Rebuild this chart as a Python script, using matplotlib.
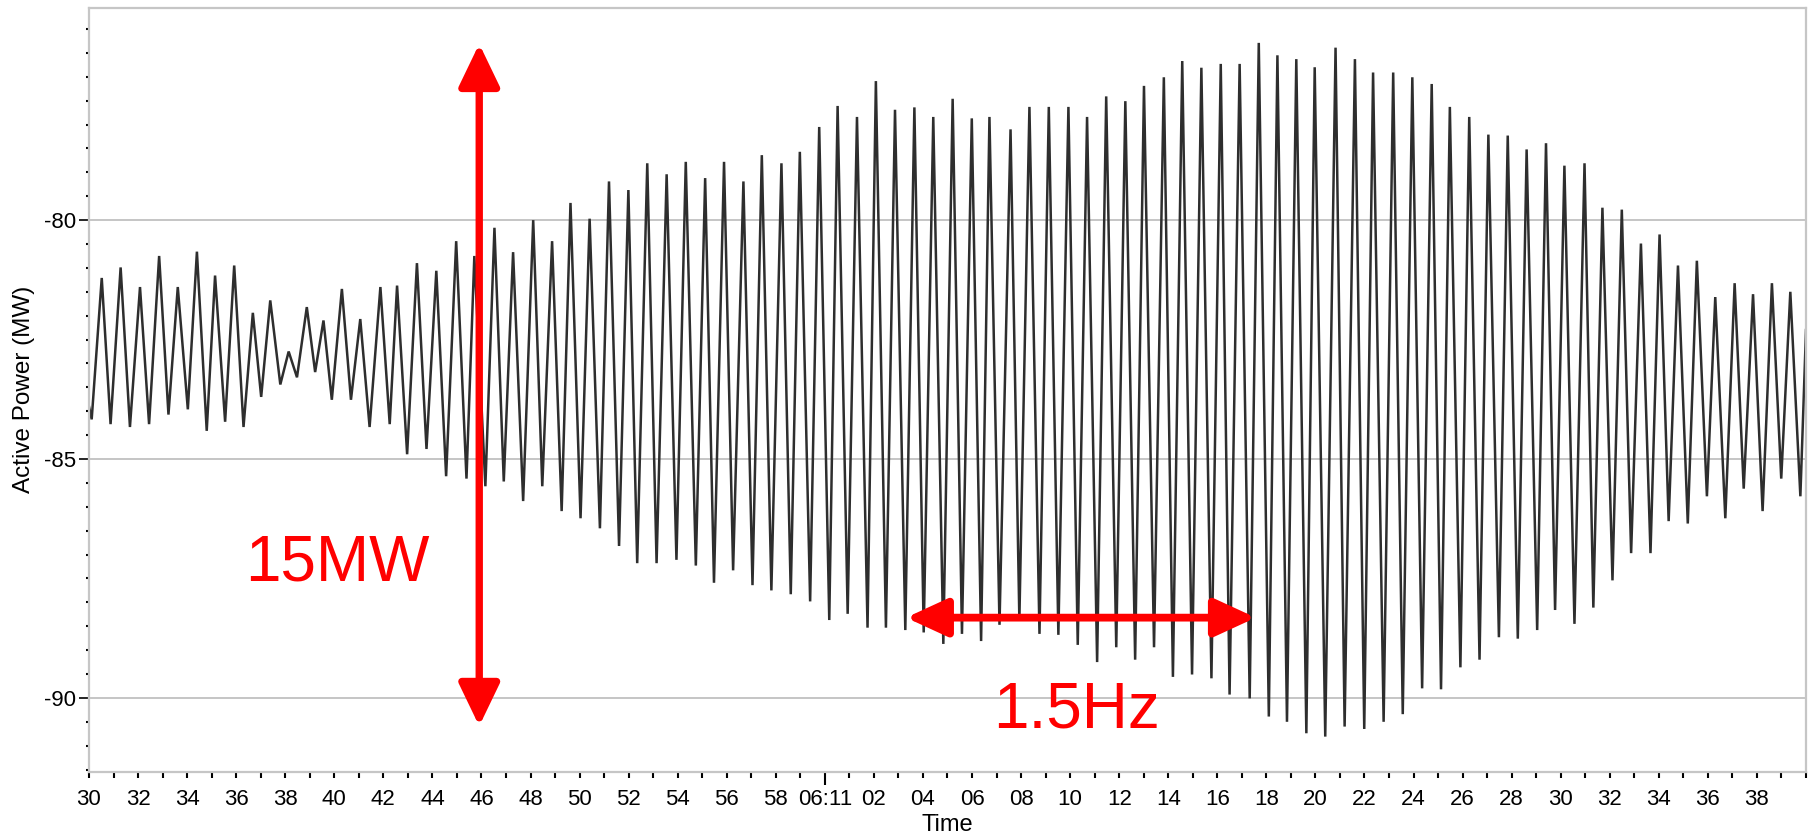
import matplotlib.pyplot as plt
from matplotlib.patches import FancyArrowPatch
from matplotlib.ticker import MultipleLocator, FixedLocator

plt.rcParams['font.family'] = ['Liberation Sans', 'DejaVu Sans']
plt.rcParams['axes.unicode_minus'] = False

# times are seconds after 06:10:00, values in MW
peak_time = [30.52, 31.29, 32.08, 32.86, 33.62, 34.40, 35.14, 35.92, 36.68, 37.39, 38.14, 38.88, 39.56, 40.31, 41.06, 41.88, 42.56,
             43.37, 44.16, 44.97, 45.71, 46.53, 47.29, 48.11, 48.88, 49.63, 50.41, 51.20, 51.99, 52.76, 53.55, 54.33, 55.12,
             55.89, 56.68, 57.43, 58.23, 58.98, 59.77, 60.52, 61.31, 62.08, 62.86, 63.65, 64.42, 65.21, 65.99, 66.71,
             67.57, 68.34, 69.13, 69.93, 70.69, 71.47, 72.25, 73.01, 73.82, 74.57, 75.35, 76.14, 76.91, 77.69,
             78.45, 79.22, 79.97, 80.82, 81.61, 82.35, 83.17, 83.95, 84.74, 85.48, 86.27, 87.05, 87.84, 88.61, 89.40,
             90.15, 90.97, 91.70, 92.49, 93.27, 94.03, 94.78, 95.55, 96.30, 97.09, 97.84, 98.61, 99.36]
peak_mw = [-81.21, -80.99, -81.40, -80.75, -81.40, -80.66, -81.16, -80.95, -81.94, -81.68, -82.75, -81.82, -82.10, -81.44, -82.07, -81.40, -81.37,
           -80.90, -81.06, -80.44, -80.75, -80.16, -80.67, -80.00, -80.44, -79.64, -79.97, -79.19, -79.37, -78.81, -79.04, -78.78, -79.12,
           -78.78, -79.19, -78.64, -78.81, -78.57, -78.05, -77.61, -77.84, -77.09, -77.69, -77.64, -77.84, -77.46, -77.87, -77.84,
           -78.10, -77.63, -77.63, -77.63, -77.84, -77.41, -77.51, -77.19, -77.01, -76.67, -76.81, -76.73, -76.73, -76.29,
           -76.55, -76.63, -76.80, -76.39, -76.63, -76.91, -76.91, -77.01, -77.15, -77.63, -77.84, -78.21, -78.23, -78.52, -78.39,
           -78.86, -78.81, -79.74, -79.78, -80.49, -80.30, -80.95, -80.85, -81.61, -81.32, -81.55, -81.32, -81.50]

trough_time = [30.11, 30.88, 31.67, 32.45, 33.24, 34.03, 34.80, 35.55, 36.30, 37.02, 37.80, 38.48, 39.22, 39.90, 40.68, 41.44, 42.26,
               42.97, 43.76, 44.56, 45.39, 46.16, 46.91, 47.70, 48.48, 49.27, 50.04, 50.83, 51.61, 52.35, 53.14, 53.95, 54.74,
               55.48, 56.26, 57.05, 57.82, 58.61, 59.40, 60.18, 60.93, 61.74, 62.49, 63.28, 64.03, 64.83, 65.59, 66.37,
               67.12, 67.93, 68.75, 69.52, 70.31, 71.10, 71.88, 72.65, 73.42, 74.19, 74.97, 75.76, 76.50, 77.32, 78.10,
               78.84, 79.63, 80.40, 81.19, 81.99, 82.78, 83.56, 84.35, 85.12, 85.91, 86.69, 87.48, 88.25, 89.04,
               89.77, 90.56, 91.33, 92.11, 92.87, 93.66, 94.40, 95.18, 95.96, 96.71, 97.46, 98.23, 98.99, 99.77]
trough_mw = [-84.17, -84.27, -84.33, -84.27, -84.07, -83.96, -84.41, -84.22, -84.33, -83.70, -83.44, -83.29, -83.18, -83.76, -83.76, -84.33, -84.27,
             -84.90, -84.79, -85.36, -85.41, -85.57, -85.47, -85.88, -85.57, -86.09, -86.24, -86.45, -86.82, -87.18, -87.18, -87.11, -87.23,
             -87.59, -87.33, -87.64, -87.75, -87.83, -87.98, -88.37, -88.24, -88.53, -88.53, -88.58, -88.63, -88.87, -88.66, -88.81,
             -88.47, -88.37, -88.66, -88.68, -88.89, -89.25, -88.94, -89.20, -88.94, -89.56, -89.51, -89.59, -89.93, -90.01, -90.39,
             -90.50, -90.74, -90.81, -90.60, -90.65, -90.50, -90.34, -89.80, -89.82, -89.36, -89.20, -88.73, -88.76, -88.58,
             -88.16, -88.45, -88.11, -87.54, -86.97, -86.97, -86.30, -86.35, -85.78, -86.24, -85.62, -86.09, -85.41, -85.78]

start_time, start_mw = 30.0, -83.9
end_time, end_mw = 100.0, -82.3

x_major = list(range(30, 100, 2))
y_major = [-90, -85, -80]


def time_label(s):
    if s == 60:
        return '06:11'
    return f'{s % 60:02d}'


# merge peaks and troughs into one trace
pts = sorted(list(zip(peak_time, peak_mw)) + list(zip(trough_time, trough_mw)))
t = [start_time] + [p[0] for p in pts] + [end_time]
p = [start_mw] + [p[1] for p in pts] + [end_mw]

fig = plt.figure(figsize=(18.16, 8.36), dpi=100)
ax = fig.add_axes([0.049, 0.0766, 0.9455, 0.9144])

ax.plot(t, p, color='#2e2e2e', lw=1.8, solid_joinstyle='miter')

ax.set_xlim(30, 100)
ax.set_ylim(-91.55, -75.55)

ax.xaxis.set_major_locator(FixedLocator(x_major))
ax.set_xticklabels([time_label(s) for s in x_major])
ax.xaxis.set_minor_locator(MultipleLocator(1))
ax.yaxis.set_major_locator(FixedLocator(y_major))
ax.yaxis.set_minor_locator(MultipleLocator(0.5))

ax.tick_params(axis='x', which='both', direction='out', length=4, width=1.5, color='black',
               labelsize=16, pad=8)
ax.tick_params(axis='y', which='major', direction='out', length=7, width=1.2, color='black',
               labelsize=16, pad=2)
ax.tick_params(axis='y', which='minor', direction='out', length=2, width=1.5, color='black')
ax.xaxis.get_major_ticks()[x_major.index(60)].tick1line.set_markersize(9)

for sp in ax.spines.values():
    sp.set_color('#c6c6c6')
    sp.set_linewidth(1.6)

ax.grid(axis='y', which='major', color='#c0c0c0', lw=1.3)
ax.set_axisbelow(True)

ax.set_xlabel('Time', fontsize=17, va='center')
ax.xaxis.set_label_coords(0.5, -0.069)
ax.set_ylabel('Active Power (MW)', fontsize=17.5, va='center')
ax.yaxis.set_label_coords(-0.038, 0.5)

# red annotations
ax.add_patch(FancyArrowPatch((45.91, -90.59), (45.91, -76.31),
                             arrowstyle='<|-|>,head_length=26,head_width=12.5',
                             mutation_scale=1, lw=5.3, color='red',
                             shrinkA=0, shrinkB=0, zorder=5))
ax.add_patch(FancyArrowPatch((63.31, -88.32), (77.57, -88.32),
                             arrowstyle='<|-|>,head_length=25,head_width=11.5',
                             mutation_scale=1, lw=5.6, color='red',
                             shrinkA=0, shrinkB=0, zorder=5))
ax.text(40.13, -87.55, '15MW', color='red', fontsize=46, ha='center', va='baseline', zorder=6)
ax.text(70.26, -90.61, '1.5Hz', color='red', fontsize=46, ha='center', va='baseline', zorder=6)

fig.savefig('out.png', dpi=100)
